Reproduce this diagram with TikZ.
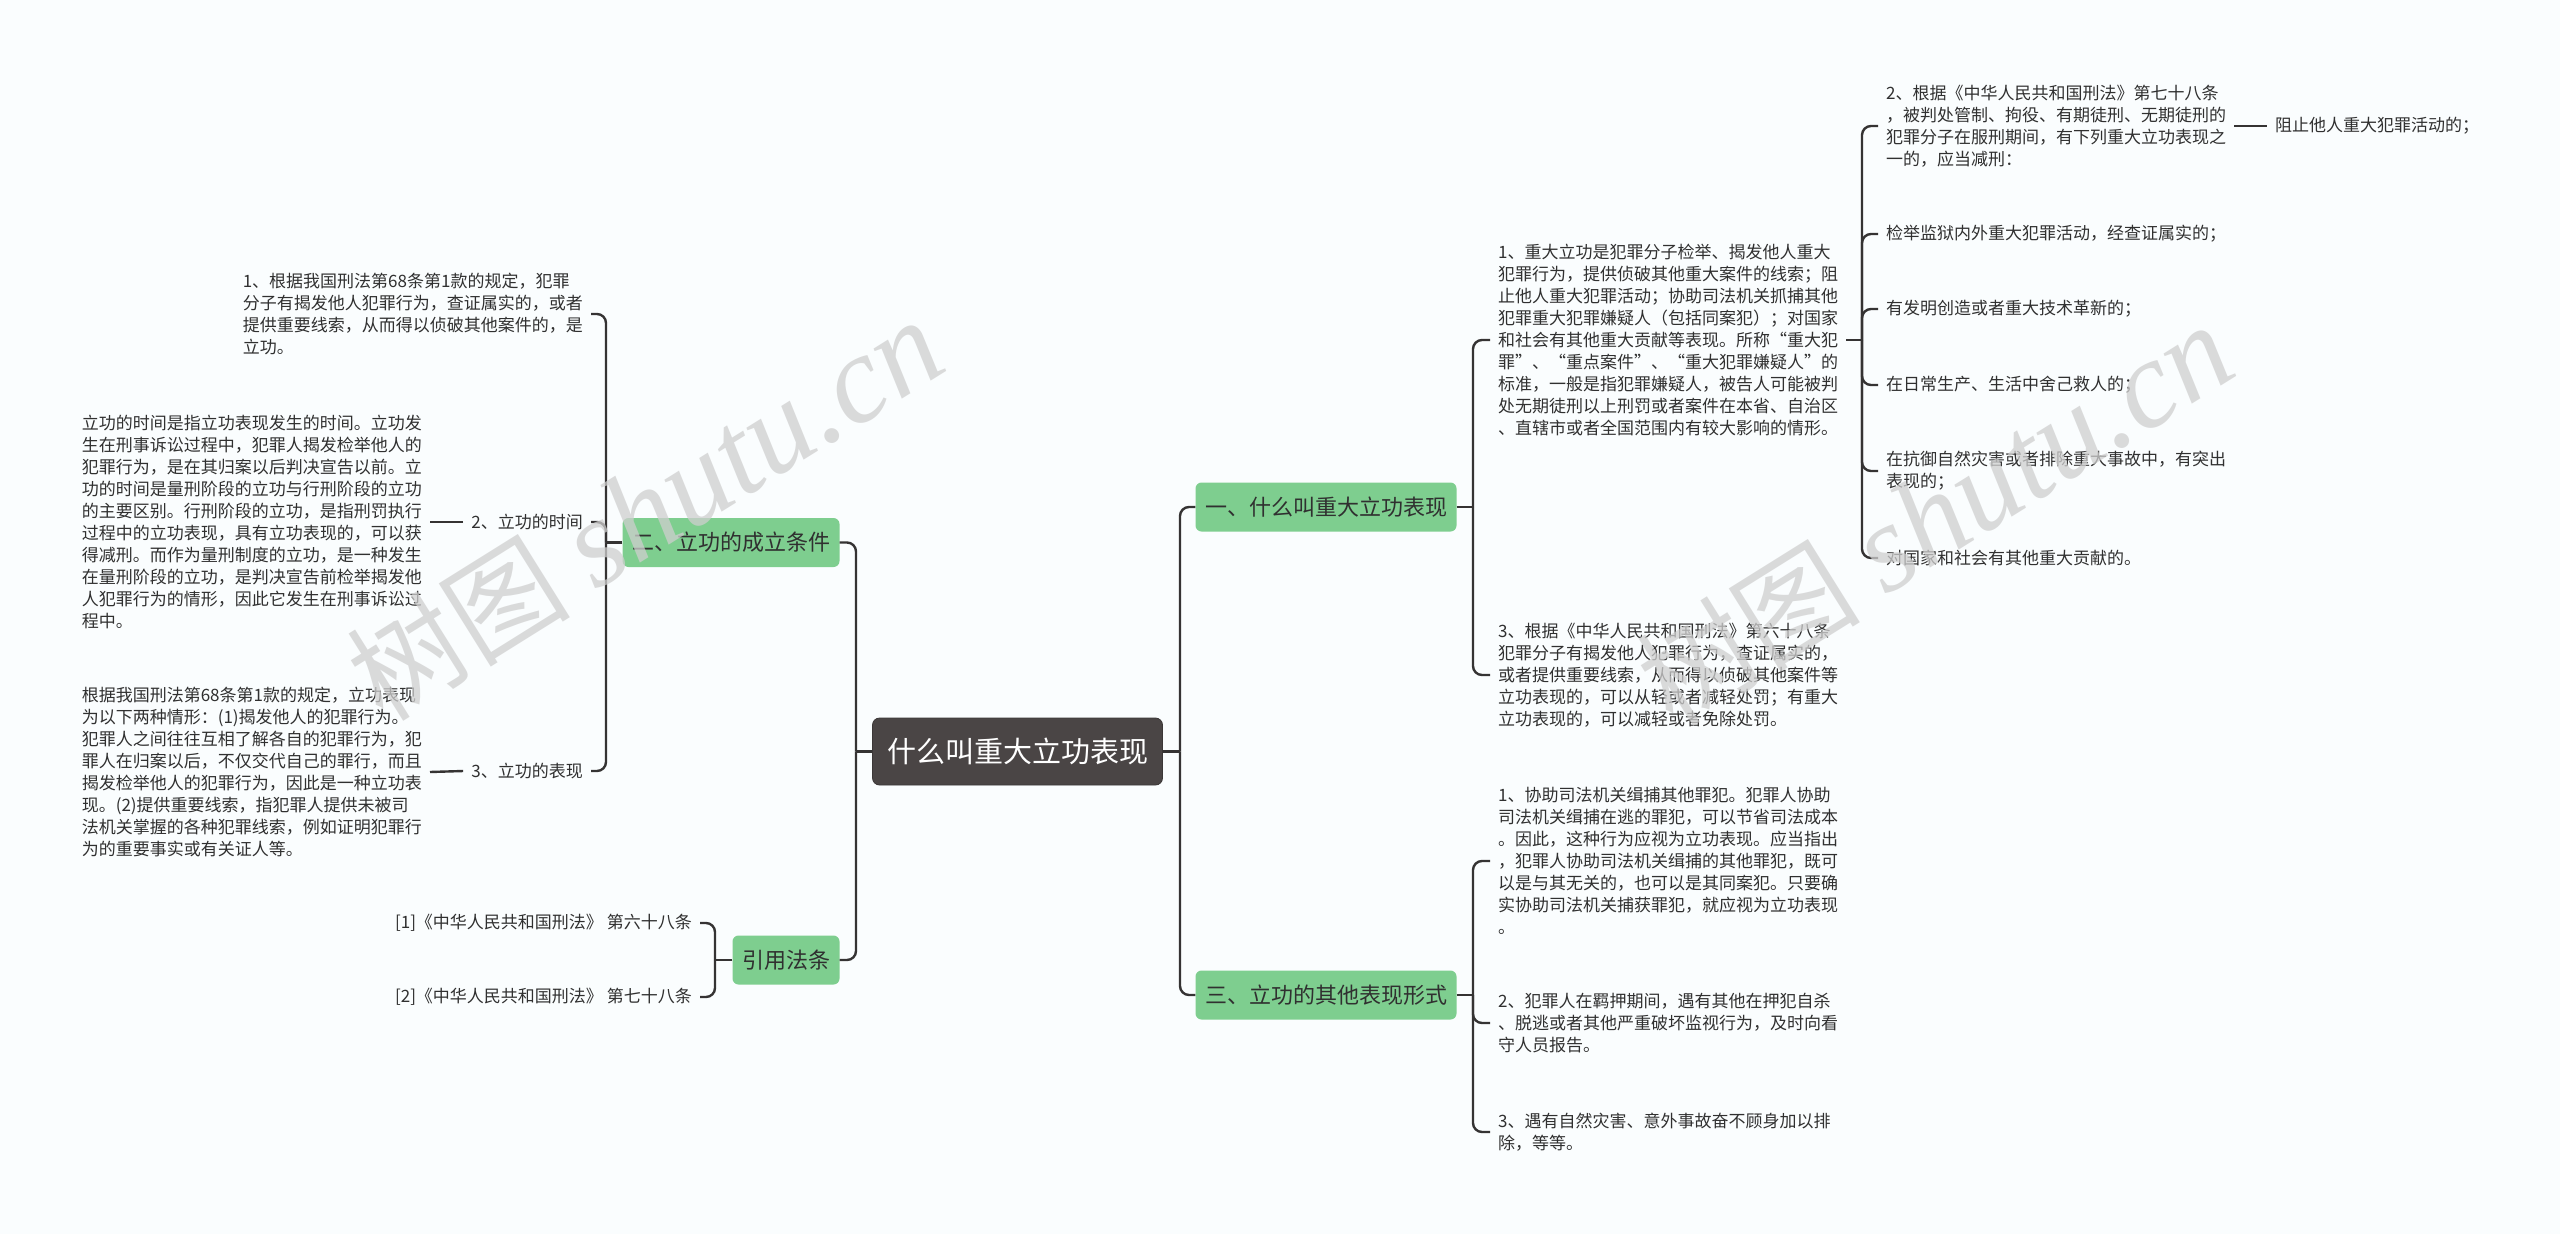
\documentclass[tikz,border=0pt]{standalone}
\usepackage{fontspec}
\setmainfont{Noto Sans CJK SC}
\newfontfamily\wmlat{Liberation Serif}
\definecolor{bgc}{HTML}{FAFDFE}
\definecolor{linec}{HTML}{353333}
\definecolor{textc}{HTML}{303030}
\definecolor{greenc}{HTML}{7ECE8F}
\definecolor{rootc}{HTML}{4A4545}
\definecolor{wmc}{HTML}{CFCFCF}
\tikzset{
  conn/.style={draw=linec, line width=2.4pt},
  br/.style={conn, rounded corners=9pt},
  txt/.style={font=\fontsize{17}{21.9}\selectfont, text=textc, align=left, inner xsep=8pt, inner ysep=0pt},
  lvlone/.style={fill=greenc, rounded corners=6pt, font=\fontsize{22}{26}\selectfont, text=textc, inner xsep=9.5pt, inner ysep=0pt, minimum height=49pt},
  rootbox/.style={fill=rootc, draw=rootc!80!black, line width=0.8pt, rounded corners=7pt, font=\fontsize{29}{34}\selectfont, text=white, inner xsep=14.5pt, inner ysep=0pt, minimum height=67pt},
  wm/.style={text=wmc, text opacity=0.75, rotate=32, inner sep=0pt}
}
\begin{document}
\begin{tikzpicture}[x=1pt,y=-1pt]
\fill[bgc] (0,0) rectangle (2560,1234);
\useasboundingbox (0,0) rectangle (2560,1234);

% junction columns
\coordinate (jL) at (856,0);
\coordinate (jR) at (1180,0);
\coordinate (jtwo) at (606,0);
\coordinate (jY) at (715,0);
\coordinate (jA) at (1473,0);
\coordinate (jF) at (1862,0);

% root and level one
\node[rootbox] (root) at (1017.5,751.5) {什么叫重大立功表现};
\node[lvlone] (btwo) at (731,542.5) {二、立功的成立条件};
\node[lvlone] (byin) at (786,960) {引用法条};
\node[lvlone] (bone) at (1326,507) {一、什么叫重大立功表现};
\node[lvlone] (bthree) at (1326,995) {三、立功的其他表现形式};

% left: 二
\node[txt, anchor=east] (Lone) at (591,314) {1、根据我国刑法第68条第1款的规定，犯罪\\分子有揭发他人犯罪行为，查证属实的，或者\\提供重要线索，从而得以侦破其他案件的，是\\立功。};
\node[txt, anchor=east] (Ltwolab) at (591,522) {2、立功的时间};
\node[txt, anchor=east] (Ltwotxt) at (430,522) {立功的时间是指立功表现发生的时间。立功发\\生在刑事诉讼过程中，犯罪人揭发检举他人的\\犯罪行为，是在其归案以后判决宣告以前。立\\功的时间是量刑阶段的立功与行刑阶段的立功\\的主要区别。行刑阶段的立功，是指刑罚执行\\过程中的立功表现，具有立功表现的，可以获\\得减刑。而作为量刑制度的立功，是一种发生\\在量刑阶段的立功，是判决宣告前检举揭发他\\人犯罪行为的情形，因此它发生在刑事诉讼过\\程中。};
\node[txt, anchor=east] (Lthreelab) at (591,771) {3、立功的表现};
\node[txt, anchor=east] (Lthreetxt) at (430,772) {根据我国刑法第68条第1款的规定，立功表现\\为以下两种情形：(1)揭发他人的犯罪行为。\\犯罪人之间往往互相了解各自的犯罪行为，犯\\罪人在归案以后，不仅交代自己的罪行，而且\\揭发检举他人的犯罪行为，因此是一种立功表\\现。(2)提供重要线索，指犯罪人提供未被司\\法机关掌握的各种犯罪线索，例如证明犯罪行\\为的重要事实或有关证人等。};

% left: 引用法条
\node[txt, anchor=east] (Rone) at (700,923) {[1]《中华人民共和国刑法》 第六十八条};
\node[txt, anchor=east] (Rtwo) at (700,997) {[2]《中华人民共和国刑法》 第七十八条};

% right: 一
\node[txt, anchor=west] (Aone) at (1490,340) {1、重大立功是犯罪分子检举、揭发他人重大\\犯罪行为，提供侦破其他重大案件的线索；阻\\止他人重大犯罪活动；协助司法机关抓捕其他\\犯罪重大犯罪嫌疑人（包括同案犯）；对国家\\和社会有其他重大贡献等表现。所称“重大犯\\罪”、“重点案件”、“重大犯罪嫌疑人”的\\标准，一般是指犯罪嫌疑人，被告人可能被判\\处无期徒刑以上刑罚或者案件在本省、自治区\\、直辖市或者全国范围内有较大影响的情形。};
\node[txt, anchor=west] (Athree) at (1490,675) {3、根据《中华人民共和国刑法》第六十八条\\犯罪分子有揭发他人犯罪行为，查证属实的，\\或者提供重要线索，从而得以侦破其他案件等\\立功表现的，可以从轻或者减轻处罚；有重大\\立功表现的，可以减轻或者免除处罚。};

% far right
\node[txt, anchor=west] (Fa) at (1878,126) {2、根据《中华人民共和国刑法》第七十八条\\，被判处管制、拘役、有期徒刑、无期徒刑的\\犯罪分子在服刑期间，有下列重大立功表现之\\一的，应当减刑：};
\node[txt, anchor=west] (Faone) at (2267,126) {阻止他人重大犯罪活动的；};
\node[txt, anchor=west] (Fb) at (1878,234) {检举监狱内外重大犯罪活动，经查证属实的；};
\node[txt, anchor=west] (Fc) at (1878,309) {有发明创造或者重大技术革新的；};
\node[txt, anchor=west] (Fd) at (1878,385) {在日常生产、生活中舍己救人的；};
\node[txt, anchor=west] (Fe) at (1878,471) {在抗御自然灾害或者排除重大事故中，有突出\\表现的；};
\node[txt, anchor=west] (Ff) at (1878,558) {对国家和社会有其他重大贡献的。};

% right: 三
\node[txt, anchor=west] (Cone) at (1490,861) {1、协助司法机关缉捕其他罪犯。犯罪人协助\\司法机关缉捕在逃的罪犯，可以节省司法成本\\。因此，这种行为应视为立功表现。应当指出\\，犯罪人协助司法机关缉捕的其他罪犯，既可\\以是与其无关的，也可以是其同案犯。只要确\\实协助司法机关捕获罪犯，就应视为立功表现\\。};
\node[txt, anchor=west] (Ctwo) at (1490,1023) {2、犯罪人在羁押期间，遇有其他在押犯自杀\\、脱逃或者其他严重破坏监视行为，及时向看\\守人员报告。};
\node[txt, anchor=west] (Cthree) at (1490,1132) {3、遇有自然灾害、意外事故奋不顾身加以排\\除，等等。};

% connectors: root
\draw[conn] (root.west) -- (root.west -| jL);
\draw[br] (root.west -| jL) |- (btwo.east);
\draw[br] (root.west -| jL) |- (byin.east);
\draw[conn] (root.east) -- (root.east -| jR);
\draw[br] (root.east -| jR) |- (bone.west);
\draw[br] (root.east -| jR) |- (bthree.west);

% 二
\draw[conn] (btwo.west) -- (btwo.west -| jtwo);
\draw[br] (btwo.west -| jtwo) |- (Lone.east);
\draw[br] (btwo.west -| jtwo) |- (Ltwolab.east);
\draw[br] (btwo.west -| jtwo) |- (Lthreelab.east);
\draw[conn] (Ltwolab.west) -- (Ltwotxt.east);
\draw[conn] (Lthreelab.west) -- (Lthreetxt.east);

% 引用法条
\draw[conn] (byin.west) -- (byin.west -| jY);
\draw[br] (byin.west -| jY) |- (Rone.east);
\draw[br] (byin.west -| jY) |- (Rtwo.east);

% 一
\draw[conn] (bone.east) -- (bone.east -| jA);
\draw[br] (bone.east -| jA) |- (Aone.west);
\draw[br] (bone.east -| jA) |- (Athree.west);

% far right
\draw[conn] (Aone.east) -- (Aone.east -| jF);
\foreach \c in {Fa,Fb,Fc,Fd,Fe,Ff}{
  \draw[br] (Aone.east -| jF) |- (\c.west);
}
\draw[conn] (Fa.east) -- (Faone.west);

% 三
\draw[conn] (bthree.east) -- (bthree.east -| jA);
\draw[br] (bthree.east -| jA) |- (Cone.west);
\draw[br] (bthree.east -| jA) |- (Ctwo.west);
\draw[br] (bthree.east -| jA) |- (Cthree.west);

% watermarks
\node[wm] (wmone) at (645,510) {\fontsize{112}{112}\selectfont 树图 {\wmlat\itshape\fontsize{125}{125}\selectfont shutu.cn}};
\node[wm] (wmtwo) at (1935,515) {\fontsize{112}{112}\selectfont 树图 {\wmlat\itshape\fontsize{125}{125}\selectfont shutu.cn}};
\end{tikzpicture}
\end{document}
